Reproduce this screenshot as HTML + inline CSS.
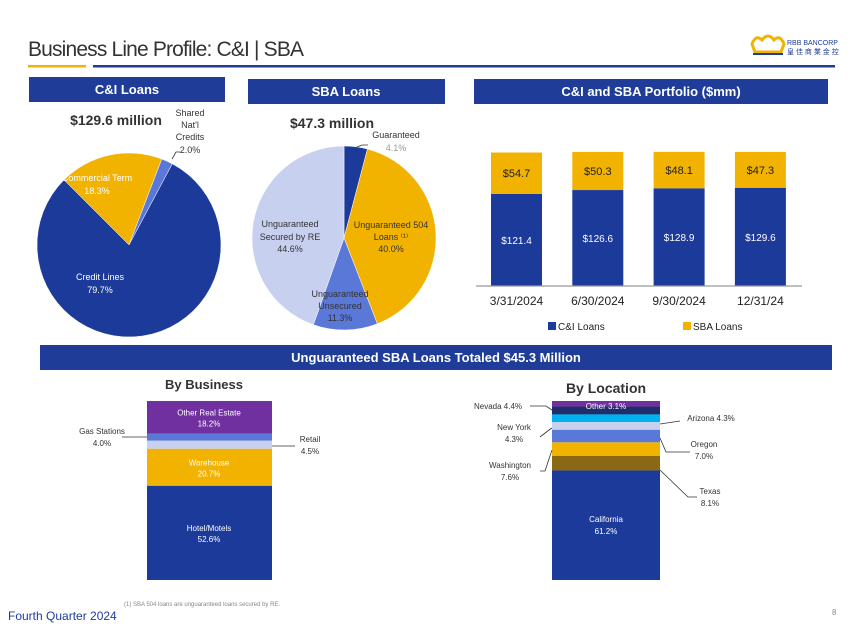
<!DOCTYPE html>
<html><head><meta charset="utf-8">
<style>
body{margin:0;background:#fff;}
svg{display:block;font-family:"Liberation Sans",sans-serif;}
</style></head>
<body>
<svg id="s" width="850" height="638" viewBox="0 0 850 638" xmlns="http://www.w3.org/2000/svg">
<text x="28" y="56" font-size="21" fill="#333" textLength="276">Business Line Profile:  C&amp;I | SBA</text>
<rect x="28" y="65" width="58" height="2.5" fill="#f2b200"/>
<rect x="93" y="65" width="742" height="2.5" fill="#1f3c99"/>
<g>
<path d="M752 44 q4-10 10-4 q6-8 12 0 q6-6 10 4 l-3 8 h-26z" fill="none" stroke="#f2b200" stroke-width="3"/>
<rect x="753" y="53" width="30" height="2" fill="#1f3c99"/>
<text x="787" y="45" font-size="7" fill="#1f3c99">RBB BANCORP</text>
<text x="787" y="54" font-size="7" fill="#1f3c99">皇 佳 商 業 金 控</text>
</g>
<rect x="29" y="77" width="196" height="25" fill="#1f3c99"/>
<text x="127" y="94" font-size="13" font-weight="bold" fill="#fff" text-anchor="middle">C&amp;I Loans</text>
<rect x="248" y="79" width="197" height="25" fill="#1f3c99"/>
<text x="346" y="96" font-size="13" font-weight="bold" fill="#fff" text-anchor="middle">SBA Loans</text>
<rect x="474" y="79" width="354" height="25" fill="#1f3c99"/>
<text x="651" y="96" font-size="13" font-weight="bold" fill="#fff" text-anchor="middle">C&amp;I and SBA Portfolio ($mm)</text>
<text x="116" y="125" font-size="14" font-weight="bold" fill="#333" text-anchor="middle">$129.6 million</text>
<text x="332" y="128" font-size="14" font-weight="bold" fill="#333" text-anchor="middle">$47.3 million</text>
<g id="pies"></g>
<g id="bars"></g>
<rect x="40" y="345" width="792" height="25" fill="#1f3c99"/>
<text x="436" y="362" font-size="13" font-weight="bold" fill="#fff" text-anchor="middle">Unguaranteed SBA Loans Totaled $45.3 Million</text>
<text x="204" y="389" font-size="13" font-weight="bold" fill="#333" text-anchor="middle">By Business</text>
<text x="606" y="393" font-size="14" font-weight="bold" fill="#333" text-anchor="middle">By Location</text>
<g id="stacks"></g>
<text x="124" y="606" font-size="6" fill="#888">(1)      SBA 504 loans are unguaranteed loans secured by RE.</text>
<text x="8" y="620" font-size="12" fill="#1f3c99">Fourth Quarter 2024</text>
<text x="832" y="615" font-size="8" fill="#888">8</text>
</svg>
<script>
const NS="http://www.w3.org/2000/svg";
const ciPieLabels=["Commercial Term","Shared Nat'l Credits","Credit Lines"];
const ciPieValues=[18.3,2.0,79.7];
const sbaPieLabels=["Guaranteed","Unguaranteed 504 Loans","Unguaranteed Unsecured","Unguaranteed Secured by RE"];
const sbaPieValues=[4.1,40.0,11.3,44.6];
const barCategories=["3/31/2024","6/30/2024","9/30/2024","12/31/24"];
const ciBarValues=[121.4,126.6,128.9,129.6];
const sbaBarValues=[54.7,50.3,48.1,47.3];
const bizLabels=["Other Real Estate","Gas Stations","Retail","Warehouse","Hotel/Motels"];
const bizValues=[18.2,4.0,4.5,20.7,52.6];
const locLabels=["Other","Nevada","Arizona","New York","Oregon","Washington","Texas","California"];
const locValues=[3.1,4.4,4.3,4.3,7.0,7.6,8.1,61.2];

function mk(tag,attrs,parent){const e=document.createElementNS(NS,tag);for(const k in attrs)e.setAttribute(k,attrs[k]);parent.appendChild(e);return e;}
function txt(x,y,s,attrs,parent){const t=mk("text",Object.assign({x:x,y:y},attrs),parent);t.textContent=s;return t;}

function pie(g,cx,cy,r,vals,colors,start,names){
  const tot=vals.reduce((a,b)=>a+b,0);let a=start;const mids=[];
  vals.forEach((v,i)=>{
    const sweep=v/tot*360;const a0=(a-90)*Math.PI/180,a1=(a+sweep-90)*Math.PI/180;
    const x0=cx+r*Math.cos(a0),y0=cy+r*Math.sin(a0),x1=cx+r*Math.cos(a1),y1=cy+r*Math.sin(a1);
    const p=mk("path",{d:`M${cx},${cy}L${x0},${y0}A${r},${r} 0 ${sweep>180?1:0} 1 ${x1},${y1}Z`,fill:colors[i],stroke:"#fff","stroke-width":0.5},g);
    
    
    mids.push(a+sweep/2);a+=sweep;
  });
  return mids;
}
const pies=document.getElementById("pies");
pie(pies,129,245,92,ciPieValues,["#f2b200","#5a78d8","#1c3a9a"],-45,["slice-commercial-term","slice-shared-natl-credits","slice-credit-lines"]);
pie(pies,344,238,92,sbaPieValues,["#1c3a9a","#f2b200","#5a78d8","#c8d0f0"],0,["slice-guaranteed","slice-unguaranteed-504","slice-unguaranteed-unsecured","slice-unguaranteed-secured-re"]);
const ls={"font-size":9,"text-anchor":"middle"};
txt(97,181,"Commercial Term",Object.assign({fill:"#fff"},ls),pies);
txt(97,194,ciPieValues[0].toFixed(1)+"%",Object.assign({fill:"#fff"},ls),pies);
txt(190,116,"Shared",Object.assign({fill:"#333"},ls),pies);
txt(190,128,"Nat'l",Object.assign({fill:"#333"},ls),pies);
txt(190,140,"Credits",Object.assign({fill:"#333"},ls),pies);
txt(190,153,ciPieValues[1].toFixed(1)+"%",Object.assign({fill:"#333"},ls),pies);
mk("path",{d:"M172,159 L176,152 L180,152",fill:"none",stroke:"#333","stroke-width":0.8},pies);
txt(100,280,"Credit Lines",Object.assign({fill:"#fff"},ls),pies);
txt(100,293,ciPieValues[2].toFixed(1)+"%",Object.assign({fill:"#fff"},ls),pies);
txt(396,138,"Guaranteed",Object.assign({fill:"#333"},ls),pies);
txt(396,151,sbaPieValues[0].toFixed(1)+"%",Object.assign({fill:"#999"},ls),pies);
mk("path",{d:"M357,147 L362,145 L368,145",fill:"none",stroke:"#333","stroke-width":0.8},pies);
txt(391,228,"Unguaranteed 504",Object.assign({fill:"#333"},ls),pies);
txt(391,240,"Loans ⁽¹⁾",Object.assign({fill:"#333"},ls),pies);
txt(391,252,sbaPieValues[1].toFixed(1)+"%",Object.assign({fill:"#333"},ls),pies);
txt(340,297,"Unguaranteed",Object.assign({fill:"#333"},ls),pies);
txt(340,309,"Unsecured",Object.assign({fill:"#333"},ls),pies);
txt(340,321,sbaPieValues[2].toFixed(1)+"%",Object.assign({fill:"#333"},ls),pies);
txt(290,227,"Unguaranteed",Object.assign({fill:"#333"},ls),pies);
txt(290,240,"Secured by RE",Object.assign({fill:"#333"},ls),pies);
txt(290,252,sbaPieValues[3].toFixed(1)+"%",Object.assign({fill:"#333"},ls),pies);

// stacked bar chart
const bars=document.getElementById("bars");
const base=286,k=0.758,bw=51;
const xc=i=>516.5+i*81.3;
const y=v=>base-v*k;
barCategories.forEach((c,i)=>{
  const b1=mk("rect",{x:xc(i)-bw/2,y:y(ciBarValues[i]),width:bw,height:base-y(ciBarValues[i]),fill:"#1c3a9a"},bars);
  
  
  const top=y(ciBarValues[i]+sbaBarValues[i]);
  const b2=mk("rect",{x:xc(i)-bw/2,y:top,width:bw,height:y(ciBarValues[i])-top,fill:"#f2b200"},bars);
  
  
  txt(xc(i),(y(ciBarValues[i])+base)/2+4,"$"+ciBarValues[i].toFixed(1),{"font-size":10,fill:"#fff","text-anchor":"middle"},bars);
  txt(xc(i),(top+y(ciBarValues[i]))/2+4,"$"+sbaBarValues[i].toFixed(1),{"font-size":11,fill:"#222","text-anchor":"middle"},bars);
  const t=txt(xc(i),305,c,{"font-size":12,fill:"#222","text-anchor":"middle"},bars);
  
  
});
mk("line",{x1:476,y1:base,x2:802,y2:base,stroke:"#999","stroke-width":1.2},bars);
const lg=mk("g",{},bars);


mk("rect",{x:548,y:322,width:8,height:8,fill:"#1c3a9a"},lg);
txt(558,330,"C&I Loans",{"font-size":10,fill:"#222"},lg);
mk("rect",{x:683,y:322,width:8,height:8,fill:"#f2b200"},lg);
txt(693,330,"SBA Loans",{"font-size":10,fill:"#222"},lg);

// 100% stacks
const stacks=document.getElementById("stacks");
function stack(x,w,top,h,vals,colors,labels,prefix){
  let yy=top;const pos=[];
  vals.forEach((v,i)=>{const hh=v/100*h;
    const r=mk("rect",{x:x,y:yy,width:w,height:hh,fill:colors[i]},stacks);
    
    
    pos.push([yy,yy+hh]);yy+=hh;});
  return pos;
}
const bp=stack(147,125,401,179,bizValues,["#7030a0","#5a78d8","#c8d0f0","#f2b200","#1c3a9a"],bizLabels,"business-segment");
const wl={"font-size":8,fill:"#fff","text-anchor":"middle"};
const dl={"font-size":8,fill:"#333","text-anchor":"middle"};
[[0],[3],[4]].forEach(([i])=>{const m=(bp[i][0]+bp[i][1])/2;
  txt(209,m-2,bizLabels[i],wl,stacks);txt(209,m+9,bizValues[i].toFixed(1)+"%",wl,stacks);});
txt(102,434,bizLabels[1],dl,stacks);txt(102,446,bizValues[1].toFixed(1)+"%",dl,stacks);
mk("line",{x1:122,y1:437,x2:147,y2:437,stroke:"#333","stroke-width":0.8},stacks);
txt(310,442,bizLabels[2],dl,stacks);txt(310,454,bizValues[2].toFixed(1)+"%",dl,stacks);
mk("line",{x1:272,y1:446,x2:295,y2:446,stroke:"#333","stroke-width":0.8},stacks);

const lp=stack(552,108,401,179,locValues,["#7030a0","#1f2d6b","#00b0f0","#c8d0f0","#5a78d8","#f2b200","#8b6914","#1c3a9a"],locLabels,"location-segment");
txt(606,409,locLabels[0]+" "+locValues[0].toFixed(1)+"%",wl,stacks);
const cm=(lp[7][0]+lp[7][1])/2;
txt(606,cm-3,locLabels[7],wl,stacks);txt(606,cm+9,locValues[7].toFixed(1)+"%",wl,stacks);
const L=(s,x,y,a)=>txt(x,y,s,Object.assign({},dl,{"text-anchor":a}),stacks);
L(locLabels[1]+" "+locValues[1].toFixed(1)+"%",498,409,"middle");
mk("path",{d:"M530,406 L546,406 L552,410",fill:"none",stroke:"#333","stroke-width":0.8},stacks);
L(locLabels[2]+" "+locValues[2].toFixed(1)+"%",711,421,"middle");
mk("line",{x1:660,y1:424,x2:680,y2:421,stroke:"#333","stroke-width":0.8},stacks);
L(locLabels[3],514,430,"middle");L(locValues[3].toFixed(1)+"%",514,442,"middle");
mk("path",{d:"M540,437 L549,430 L552,428",fill:"none",stroke:"#333","stroke-width":0.8},stacks);
L(locLabels[4],704,447,"middle");L(locValues[4].toFixed(1)+"%",704,459,"middle");
mk("path",{d:"M660,438 L666,452 L690,452",fill:"none",stroke:"#333","stroke-width":0.8},stacks);
L(locLabels[5],510,468,"middle");L(locValues[5].toFixed(1)+"%",510,480,"middle");
mk("path",{d:"M540,471 L545,471 L552,450",fill:"none",stroke:"#333","stroke-width":0.8},stacks);
L(locLabels[6],710,494,"middle");L(locValues[6].toFixed(1)+"%",710,506,"middle");
mk("path",{d:"M660,470 L688,497 L697,497",fill:"none",stroke:"#333","stroke-width":0.8},stacks);
</script>
</body></html>
